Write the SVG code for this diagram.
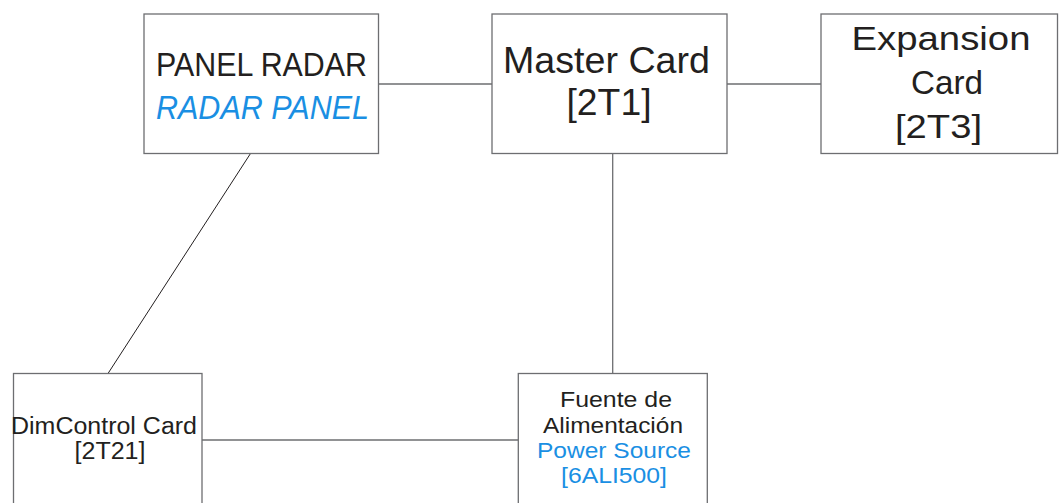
<svg xmlns="http://www.w3.org/2000/svg" width="1062" height="503" viewBox="0 0 1062 503">
<style>
.box{fill:#fff;stroke:#6d6e71;stroke-width:1.3}
.con line{stroke:#6d6e71;stroke-width:1.3}
text{font-family:"Liberation Sans",Arial,sans-serif;fill:#231f20;text-anchor:middle}
.blue{fill:#1a8fe3}
.big{font-size:34px}
.mid{font-size:36px}
.exp{font-size:33px}
.sm{font-size:23px}
.xs{font-size:22px}
</style>
<rect width="1062" height="503" fill="#fff"/>
<g id="connectors" class="con">
<line x1="378" y1="84" x2="492" y2="84"/>
<line x1="727" y1="84" x2="821" y2="84"/>
<line x1="612.7" y1="153.5" x2="612.7" y2="373.5"/>
<line x1="250.5" y1="153.5" x2="108" y2="373.5" style="stroke:#231f20;stroke-width:1"/>
<line x1="202" y1="440" x2="518" y2="440"/>
</g>
<g id="panel-radar">
<rect class="box" x="144" y="14" width="234.5" height="139.5"/>
<text class="big" x="261.5" y="76" textLength="211" lengthAdjust="spacingAndGlyphs">PANEL RADAR</text>
<text class="big blue" x="262.5" y="119" font-style="italic" textLength="213" lengthAdjust="spacingAndGlyphs">RADAR PANEL</text>
</g>
<g id="master-card">
<rect class="box" x="492" y="14" width="235" height="139.5"/>
<text class="mid" x="606.5" y="72.7" textLength="207" lengthAdjust="spacingAndGlyphs">Master Card</text>
<text class="mid" x="609" y="115" textLength="85" lengthAdjust="spacingAndGlyphs">[2T1]</text>
</g>
<g id="expansion-card">
<rect class="box" x="821" y="14" width="236.5" height="139.5"/>
<text class="exp" x="941" y="50" textLength="179" lengthAdjust="spacingAndGlyphs">Expansion</text>
<text class="exp" x="947" y="94.3" textLength="72" lengthAdjust="spacingAndGlyphs">Card</text>
<text class="exp" x="938.5" y="138" textLength="87" lengthAdjust="spacingAndGlyphs">[2T3]</text>
</g>
<g id="dimcontrol-card">
<rect class="box" x="13.5" y="373.5" width="188.5" height="150"/>
<text class="sm" x="104" y="434" textLength="186" lengthAdjust="spacingAndGlyphs">DimControl Card</text>
<text class="sm" x="110" y="459.3" textLength="71" lengthAdjust="spacingAndGlyphs">[2T21]</text>
</g>
<g id="power-source">
<rect class="box" x="518.3" y="373.5" width="189" height="150"/>
<text class="xs" x="616" y="406.7" textLength="112" lengthAdjust="spacingAndGlyphs">Fuente de</text>
<text class="xs" x="613" y="433.3" textLength="140" lengthAdjust="spacingAndGlyphs">Alimentación</text>
<text class="xs blue" x="614" y="457.7" textLength="154" lengthAdjust="spacingAndGlyphs">Power Source</text>
<text class="xs blue" x="614" y="482.7" textLength="106" lengthAdjust="spacingAndGlyphs">[6ALI500]</text>
</g>
</svg>
